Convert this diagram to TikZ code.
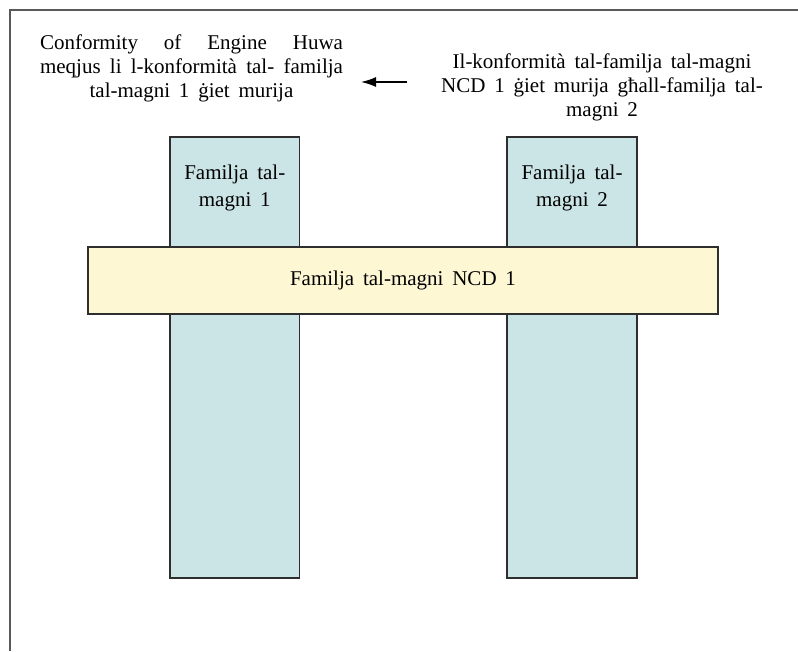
\documentclass[tikz,border=0pt]{standalone}
\usepackage{fontspec}
\setmainfont{Liberation Serif}
\usetikzlibrary{positioning,arrows.meta}
\definecolor{colfill}{HTML}{CBE4E6}
\definecolor{barfill}{HTML}{FDF7D4}
\definecolor{edge}{HTML}{2E2E2E}
\hbadness=10000
\newcommand\topfont{\fontsize{21}{24}\selectfont\spaceskip=8.8pt plus 6pt minus 1pt\relax}
\newcommand\lblfont{\fontsize{21}{27}\selectfont\spaceskip=8.8pt plus 6pt minus 1pt\relax}
\newcommand\fullline[1]{\makebox[303pt][s]{#1}}
\begin{document}
\begin{tikzpicture}[x=1pt, y=-1pt, thick,
  txt/.style = {inner sep=0pt, align=center, font=\topfont},
  colbox/.style = {draw=edge, line width=1.6pt, fill=colfill, minimum width=129.5pt, minimum height=441pt, inner sep=0pt},
  barbox/.style = {draw=edge, line width=1.6pt, fill=barfill, minimum width=630pt, minimum height=67pt, inner sep=0pt, font=\topfont},
  lbl/.style = {align=center, inner sep=0pt, font=\lblfont}]
\useasboundingbox (0,0) rectangle (798,651);
% open frame
\draw[line width=1.5pt, black!65] (10,651) -- (10,10) -- (798,10);
% texts on top
\node[txt] (1) at (191.5,68) {\fullline{Conformity of Engine Huwa}\\\fullline{meqjus li l-konformità tal- familja}\\tal-magni 1 ġiet murija};
\node[txt] (2) at (602,87) {Il-konformità tal-familja tal-magni\\NCD 1 ġiet murija għall-familja tal-\\magni 2};
\coordinate (a) at (407,82);
\coordinate (b) at (361,82);
\draw[line width=1.5pt, -{Latex[length=15pt,width=10pt]}] (a) -- (b);
% families
\node[colbox] (3) at (234.75,357.5) {};
\node[colbox] (4) at (572,357.5) {};
\node[lbl] (6) [below=28pt of 3.north] {Familja tal-\\magni 1};
\node[lbl] (7) [below=28pt of 4.north] {Familja tal-\\magni 2};
\node[barbox] (5) at (403,280.5) {Familja tal-magni NCD 1};
\end{tikzpicture}
\end{document}
